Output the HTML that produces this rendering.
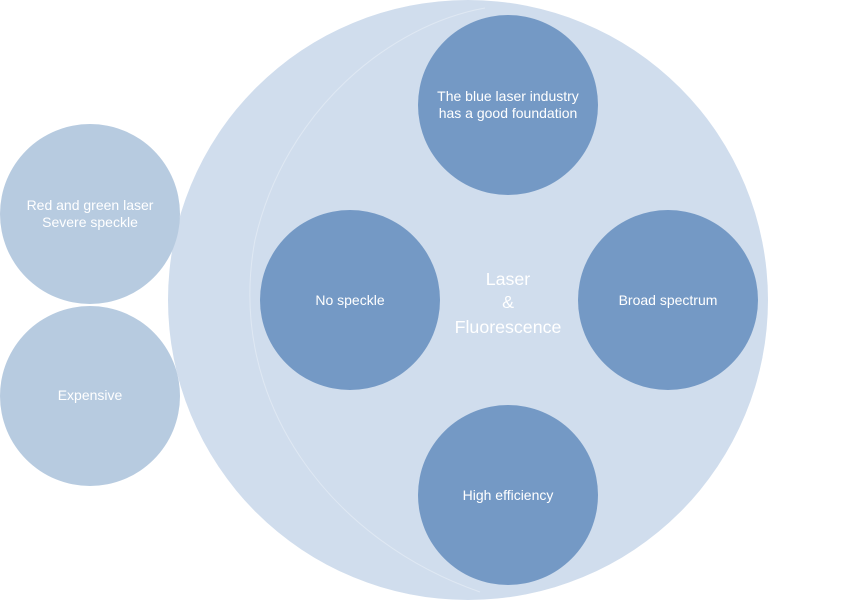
<!DOCTYPE html>
<html><head><style>body{margin:0;background:#fff}svg{display:block}text{font-family:"Liberation Sans",sans-serif;fill:#fff;text-anchor:middle}</style></head><body>
<svg width="849" height="601" viewBox="0 0 849 601">
<circle cx="468" cy="300" r="300" fill="#d0dded"/>
<path d="M480 592 C330 540 225 400 255 240 C285 110 390 25 485 8" fill="none" stroke="#dfe8f3" stroke-width="1"/>
<circle cx="90" cy="214" r="90" fill="#b7cbe0"/>
<circle cx="90" cy="396" r="90" fill="#b7cbe0"/>
<circle cx="508" cy="105" r="90" fill="#7499c5"/>
<circle cx="350" cy="300" r="90" fill="#7499c5"/>
<circle cx="668" cy="300" r="90" fill="#7499c5"/>
<circle cx="508" cy="495" r="90" fill="#7499c5"/>
<g font-size="14">
<text x="90" y="210">Red and green laser</text>
<text x="90" y="227">Severe speckle</text>
<text x="90" y="400">Expensive</text>
<text x="508" y="101">The blue laser industry</text>
<text x="508" y="118">has a good foundation</text>
<text x="350" y="305">No speckle</text>
<text x="668" y="305">Broad spectrum</text>
<text x="508" y="500">High efficiency</text>
</g>
<g font-size="17.8">
<text x="508" y="285">Laser</text>
<text x="508" y="308">&amp;</text>
<text x="508" y="333">Fluorescence</text>
</g>
</svg>
</body></html>
